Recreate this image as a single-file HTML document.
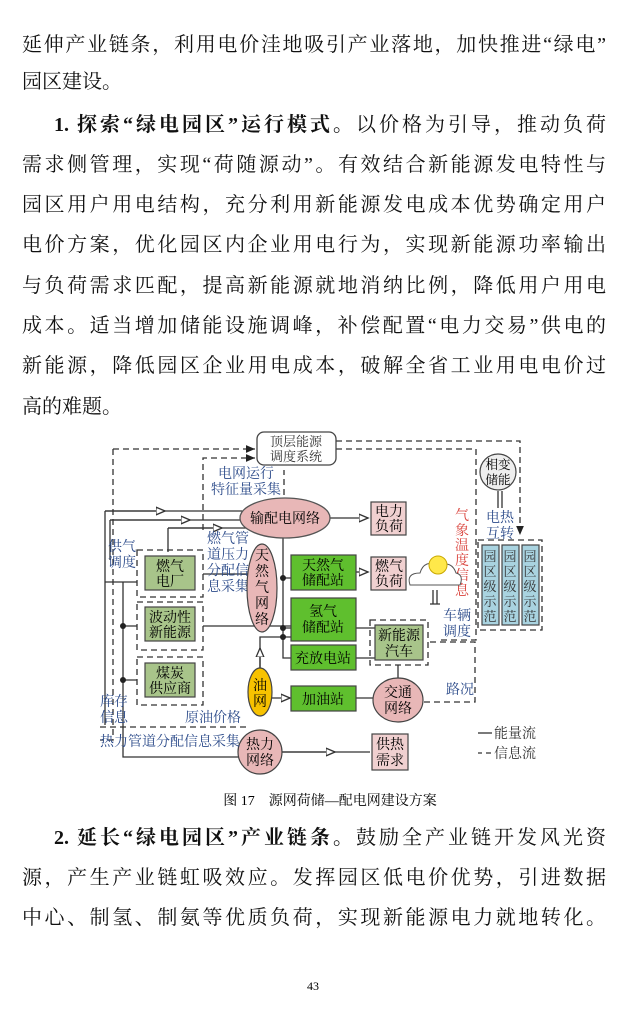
<!DOCTYPE html>
<html><head><meta charset="utf-8">
<style>
html,body{margin:0;padding:0;background:#fff;}
body{width:627px;height:1019px;position:relative;overflow:hidden;font-family:"Liberation Serif","Noto Serif CJK SC",serif;color:#111;}
.p{position:absolute;left:22px;width:584px;font-size:20px;line-height:40px;text-align:justify;text-align-last:justify;white-space:nowrap;}
.l{text-align-last:left;}
b{font-weight:bold;}
svg text{font-family:"Liberation Serif","Noto Serif CJK SC",serif;}
</style></head><body>
<div class="p" style="top:25px">延伸产业链条，利用电价洼地吸引产业落地，加快推进“绿电”</div>
<div class="p l" style="top:62px">园区建设。</div>
<div class="p" style="top:105px">&nbsp;&nbsp;&nbsp;&nbsp;<b>1. 探索“绿电园区”运行模式。</b>以价格为引导，推动负荷</div>
<div class="p" style="top:145px">需求侧管理，实现“荷随源动”。有效结合新能源发电特性与</div>
<div class="p" style="top:185px">园区用户用电结构，充分利用新能源发电成本优势确定用户</div>
<div class="p" style="top:225px">电价方案，优化园区内企业用电行为，实现新能源功率输出</div>
<div class="p" style="top:266px">与负荷需求匹配，提高新能源就地消纳比例，降低用户用电</div>
<div class="p" style="top:306px">成本。适当增加储能设施调峰，补偿配置“电力交易”供电的</div>
<div class="p" style="top:346px">新能源，降低园区企业用电成本，破解全省工业用电电价过</div>
<div class="p l" style="top:387px">高的难题。</div>

<svg style="position:absolute;left:0;top:0" width="627" height="1019" font-size="14">
<defs><marker id="a" markerWidth="8" markerHeight="8" refX="7" refY="4" orient="auto"><path d="M0,1 L7,4 L0,7 Z" fill="#fff" stroke="#333" stroke-width="1"/></marker>
<marker id="f" markerWidth="8" markerHeight="8" refX="7" refY="4" orient="auto"><path d="M0,1 L7,4 L0,7 Z" fill="#222"/></marker></defs>
<g fill="none" stroke="#333" stroke-width="1.3" stroke-dasharray="6,4">
<path d="M113,449 H255" marker-end="url(#f)"/>
<path d="M203,530 V458 H255" marker-end="url(#f)"/>
<path d="M336,441 H520 V535" marker-end="url(#f)"/>
<path d="M336,449 H476 V640 H440"/>
<path d="M113,449 V740 H100"/>
<path d="M100,727 H250"/>
<path d="M430,642 H475 V702 H424"/>
<path d="M284,495 V470"/>
<path d="M478,540 H542 V630 H478 Z"/>
<rect x="137" y="550" width="66" height="47"/>
<rect x="137" y="602" width="66" height="48"/>
<rect x="137" y="657" width="66" height="48"/>
<rect x="370" y="620" width="58" height="45"/>
</g>
<g fill="none" stroke="#333" stroke-width="1.3">
<path d="M105,511 H242"/><path d="M105,511 H165" marker-end="url(#a)"/>
<path d="M110,520 H242"/><path d="M110,520 H190" marker-end="url(#a)"/>
<path d="M168,528 H260"/><path d="M168,528 V552"/><path d="M168,528 H222" marker-end="url(#a)"/>
<path d="M105,511 V725"/><path d="M110,520 V560"/>
<path d="M123,582 V757 H238"/>
<path d="M123,626 H137 M123,680 H137 M105,582 H137"/>
<path d="M203,626 H291 M203,574 H250"/>
<path d="M330,518 H368" marker-end="url(#a)"/>
<path d="M283,538 V658 H292 M283,578 H291 M283,628 H292 M283,637 H292"/>
<path d="M260,668 V637 H283" /><path d="M260,668 V648" marker-end="url(#a)"/>
<path d="M356,572 H368" marker-end="url(#a)"/>
<path d="M356,628 H375 M356,658 H375 M398,665 V678"/>
<path d="M272,698 H290" marker-end="url(#a)"/><path d="M356,698 H373"/>
<path d="M282,752 H370"/><path d="M282,752 H335" marker-end="url(#a)"/>
<path d="M498,491 V508 M502,491 V508"/>
<path d="M433,590 V604 M437,590 V604 M430,604 H440"/>
<path d="M478,733 H492"/>
</g>
<path d="M478,753 H482 M486,753 H491" stroke="#333" stroke-width="1.3"/>
<g fill="#222"><circle cx="283" cy="578" r="3"/><circle cx="283" cy="628" r="3"/><circle cx="283" cy="637" r="3"/><circle cx="123" cy="626" r="3"/><circle cx="123" cy="680" r="3"/></g>
<rect x="257" y="432" width="79" height="33" rx="7" fill="#fff" stroke="#444" stroke-width="1.3"/>
<text x="296" y="446" text-anchor="middle" fill="#333" font-size="13">顶层能源</text>
<text x="296" y="461" text-anchor="middle" fill="#333" font-size="13">调度系统</text>
<text x="246" y="478" text-anchor="middle" fill="#2c4b8a">电网运行</text>
<text x="246" y="494" text-anchor="middle" fill="#2c4b8a">特征量采集</text>
<ellipse cx="285" cy="518" rx="45" ry="20" fill="#e8b7b7" stroke="#555" stroke-width="1.3"/>
<text x="285" y="523" text-anchor="middle">输配电网络</text>
<text x="108" y="551" fill="#2c4b8a">供气</text><text x="108" y="567" fill="#2c4b8a">调度</text>
<text x="207" y="543" fill="#2c4b8a">燃气管</text><text x="207" y="559" fill="#2c4b8a">道压力</text><text x="207" y="575" fill="#2c4b8a">分配信</text><text x="207" y="591" fill="#2c4b8a">息采集</text>
<g stroke="#444" stroke-width="1.2">
<rect x="145" y="556" width="50" height="34" fill="#a8c48a"/>
<rect x="145" y="607" width="50" height="34" fill="#a8c48a"/>
<rect x="145" y="663" width="50" height="34" fill="#a8c48a"/>
<rect x="291" y="555" width="65" height="35" fill="#5fbf2e"/>
<rect x="291" y="598" width="65" height="43" fill="#5fbf2e"/>
<rect x="291" y="645" width="65" height="25" fill="#5fbf2e"/>
<rect x="291" y="686" width="65" height="25" fill="#5fbf2e"/>
<rect x="375" y="625" width="48" height="35" fill="#a8c48a"/>
<rect x="371" y="502" width="35" height="33" fill="#f0d0d0"/>
<rect x="371" y="557" width="35" height="33" fill="#f0d0d0"/>
<rect x="372" y="734" width="36" height="36" fill="#f0d0d0"/>
<rect x="482" y="545" width="17" height="80" fill="#a9d3e0"/>
<rect x="502" y="545" width="17" height="80" fill="#a9d3e0"/>
<rect x="522" y="545" width="17" height="80" fill="#a9d3e0"/>
<ellipse cx="262" cy="588" rx="15" ry="44" fill="#e8b7b7"/>
<ellipse cx="260" cy="692" rx="12" ry="24" fill="#f7c200"/>
<ellipse cx="398" cy="700" rx="25" ry="22" fill="#e8b7b7"/>
<ellipse cx="260" cy="752" rx="22" ry="22" fill="#e8b7b7"/>
<circle cx="498" cy="472" r="18" fill="#eee"/>
</g>
<text x="170" y="571" text-anchor="middle">燃气</text><text x="170" y="586" text-anchor="middle">电厂</text>
<text x="170" y="622" text-anchor="middle">波动性</text><text x="170" y="637" text-anchor="middle">新能源</text>
<text x="170" y="678" text-anchor="middle">煤炭</text><text x="170" y="693" text-anchor="middle">供应商</text>
<g text-anchor="middle"><text x="262" y="560">天</text><text x="262" y="576">然</text><text x="262" y="592">气</text><text x="262" y="608">网</text><text x="262" y="624">络</text>
<text x="260" y="690">油</text><text x="260" y="706">网</text>
<text x="323" y="570">天然气</text><text x="323" y="585">储配站</text>
<text x="323" y="616">氢气</text><text x="323" y="632">储配站</text>
<text x="323" y="663">充放电站</text><text x="323" y="704">加油站</text>
<text x="399" y="640">新能源</text><text x="399" y="656">汽车</text>
<text x="398" y="697">交通</text><text x="398" y="713">网络</text>
<text x="260" y="749">热力</text><text x="260" y="765">网络</text>
<text x="389" y="516">电力</text><text x="389" y="531">负荷</text>
<text x="389" y="571">燃气</text><text x="389" y="586">负荷</text>
<text x="390" y="749">供热</text><text x="390" y="765">需求</text>
<text x="498" y="469" font-size="12.5">相变</text><text x="498" y="484" font-size="12.5">储能</text>
<text x="500" y="522" fill="#2c4b8a">电热</text><text x="500" y="538" fill="#2c4b8a">互转</text>
<text x="457" y="620" fill="#2c4b8a">车辆</text><text x="457" y="636" fill="#2c4b8a">调度</text>
<text x="460" y="694" fill="#2c4b8a">路况</text>
</g>
<g text-anchor="middle" fill="#333" font-size="13">
<text x="490" y="561">园</text><text x="490" y="576">区</text><text x="490" y="591">级</text><text x="490" y="606">示</text><text x="490" y="621">范</text>
<text x="510" y="561">园</text><text x="510" y="576">区</text><text x="510" y="591">级</text><text x="510" y="606">示</text><text x="510" y="621">范</text>
<text x="530" y="561">园</text><text x="530" y="576">区</text><text x="530" y="591">级</text><text x="530" y="606">示</text><text x="530" y="621">范</text>
</g>
<g text-anchor="middle" fill="#d9413a"><text x="462" y="520">气</text><text x="462" y="535">象</text><text x="462" y="550">温</text><text x="462" y="565">度</text><text x="462" y="580">信</text><text x="462" y="595">息</text></g>
<path d="M410,585 q-4,-12 10,-12 q4,-14 20,-8 q12,-4 16,8 q8,2 4,12 Z" fill="#fff" stroke="#555"/>
<circle cx="438" cy="565" r="9" fill="#ffe84a" stroke="#c9a800"/>
<text x="100" y="706" fill="#2c4b8a">库存</text><text x="100" y="722" fill="#2c4b8a">信息</text>
<text x="185" y="722" fill="#2c4b8a">原油价格</text>
<text x="100" y="746" fill="#2c4b8a">热力管道分配信息采集</text>
<text x="494" y="738" fill="#333">能量流</text><text x="494" y="758" fill="#333">信息流</text>
<text x="330" y="805" text-anchor="middle" font-size="14" font-family="Liberation Sans,Noto Sans CJK SC,sans-serif">图 17　源网荷储—配电网建设方案</text>
<text x="313" y="990" text-anchor="middle" font-size="12">43</text>
</svg>

<div class="p" style="top:818px">&nbsp;&nbsp;&nbsp;&nbsp;<b>2. 延长“绿电园区”产业链条。</b>鼓励全产业链开发风光资</div>
<div class="p" style="top:858px">源，产生产业链虹吸效应。发挥园区低电价优势，引进数据</div>
<div class="p" style="top:898px">中心、制氢、制氨等优质负荷，实现新能源电力就地转化。</div>
</body></html>
